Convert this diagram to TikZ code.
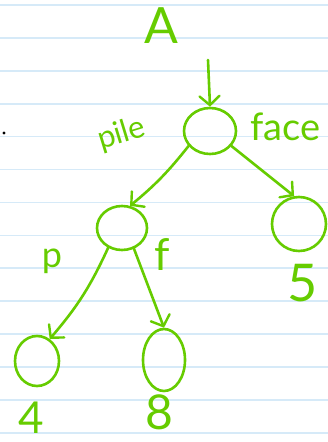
\documentclass[tikz,border=0pt]{standalone}
\usepackage{fontspec}
\setmainfont{Lato}
\usetikzlibrary{arrows.meta,shapes.geometric}
\definecolor{ink}{RGB}{102,204,0}
\definecolor{ruling}{RGB}{214,234,248}
\begin{document}
\begin{tikzpicture}[x=1pt,y=-1pt,
  ring/.style={draw=ink,line width=2.6pt,ellipse,inner sep=0pt},
  edge/.style={draw=ink,line width=2.6pt,line cap=round,
    -{Straight Barb[length=9pt,width=20pt,line width=2.4pt,line cap=round]}},
  hand/.style={text=ink,inner sep=0pt}]
% notebook page
\fill[white] (0,0) rectangle (328,442);
\useasboundingbox (0,0) rectangle (328,442);
\foreach \k in {0,...,13}
  \draw[ruling,line width=1.6pt] (0,{5+32.9*\k}) -- (328,{5+32.9*\k});
\fill (4,133) circle (1.6pt);
% tree nodes
\node[ring,minimum width=52pt,minimum height=46pt] (root) at (210,131) {};
\node[ring,minimum width=50pt,minimum height=44pt] (l) at (122,228) {};
\node[ring,minimum width=54pt,minimum height=54pt] (r) at (299,224) {};
\node[ring,minimum width=44pt,minimum height=50pt] (ll) at (37,361) {};
\node[ring,minimum width=42pt,minimum height=62pt] (lr) at (164,360) {};
% labels
\node[hand,font=\fontsize{50}{50}\selectfont] (a) at (161,26) {A};
\node[hand,font=\fontsize{31}{31}\selectfont,anchor=base west,rotate=17] (pile) at (101,150) {pile};
\node[hand,font=\fontsize{38}{38}\selectfont,anchor=base west] (face) at (250,140) {face};
\node[hand,font=\fontsize{36}{36}\selectfont] (p) at (52,261) {p};
\node[hand,font=\fontsize{44}{44}\selectfont] (f) at (162,255) {f};
\node[hand,font=\fontsize{52}{52}\selectfont] (five) at (303,283) {5};
\node[hand,font=\fontsize{44}{44}\selectfont] (four) at (31,418) {4};
\node[hand,font=\fontsize{48}{48}\selectfont] (eight) at (159,412) {8};
% edges
\coordinate (in) at (208,60);
\draw[edge] (in) -- (root.north);
\draw[edge] (root.215) to[bend left=6] (l.70);
\draw[edge] (root.325) -- (r.100);
\draw[edge] (l.235) to[bend left=8] (ll.60);
\draw[edge] (l.300) -- (lr.north);
\end{tikzpicture}
\end{document}
